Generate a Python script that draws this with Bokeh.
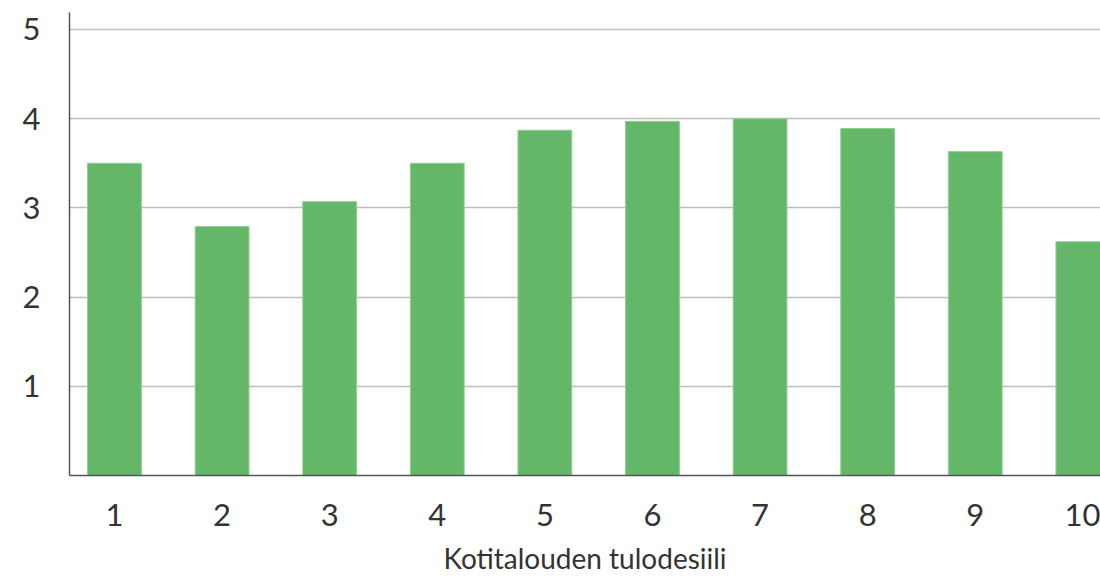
from bokeh.plotting import figure
from bokeh.models import Range1d, FixedTicker
from bokeh.embed import file_html
from bokeh.resources import INLINE

deciles = [1, 2, 3, 4, 5, 6, 7, 8, 9, 10]
values = [3.50, 2.79, 3.07, 3.50, 3.87, 3.97, 4.00, 3.89, 3.63, 2.62]
y_ticks = [1, 2, 3, 4, 5]
x_label = "Kotitalouden tulodesiili"

FONT = "Lato"

p = figure(width=1100, height=581, output_backend="svg", toolbar_location=None,
           x_range=Range1d(0.582, 10.164), y_range=Range1d(0, 5.19),
           min_border_left=69, min_border_right=0, min_border_top=12, min_border_bottom=106)
p.outline_line_color = None
p.background_fill_color = "white"

p.vbar(x=deciles, top=values, width=0.5, bottom=0,
       fill_color="#64b769", line_color="#8fd092", line_width=1)

p.xaxis.ticker = FixedTicker(ticks=deciles)
p.yaxis.ticker = FixedTicker(ticks=y_ticks)
p.xaxis.axis_label = x_label

for ax in (p.xaxis[0], p.yaxis[0]):
    ax.axis_line_color = "#555555"
    ax.axis_line_width = 1.5
    ax.major_tick_line_color = None
    ax.minor_tick_line_color = None
    ax.major_label_text_font = FONT
    ax.major_label_text_font_size = "31px"
    ax.major_label_text_color = "#333333"

p.yaxis.major_label_standoff = 23
p.xaxis.major_label_standoff = 22
p.xaxis.axis_label_text_font = FONT
p.xaxis.axis_label_text_font_size = "28px"
p.xaxis.axis_label_text_font_style = "normal"
p.xaxis.axis_label_text_color = "#333333"
p.xaxis.axis_label_standoff = 12

p.xgrid.grid_line_color = None
p.ygrid.ticker = FixedTicker(ticks=y_ticks)
p.ygrid.grid_line_color = "#bdbdbd"
p.ygrid.grid_line_width = 1.5

open("out.html", "w").write(file_html(p, INLINE))
